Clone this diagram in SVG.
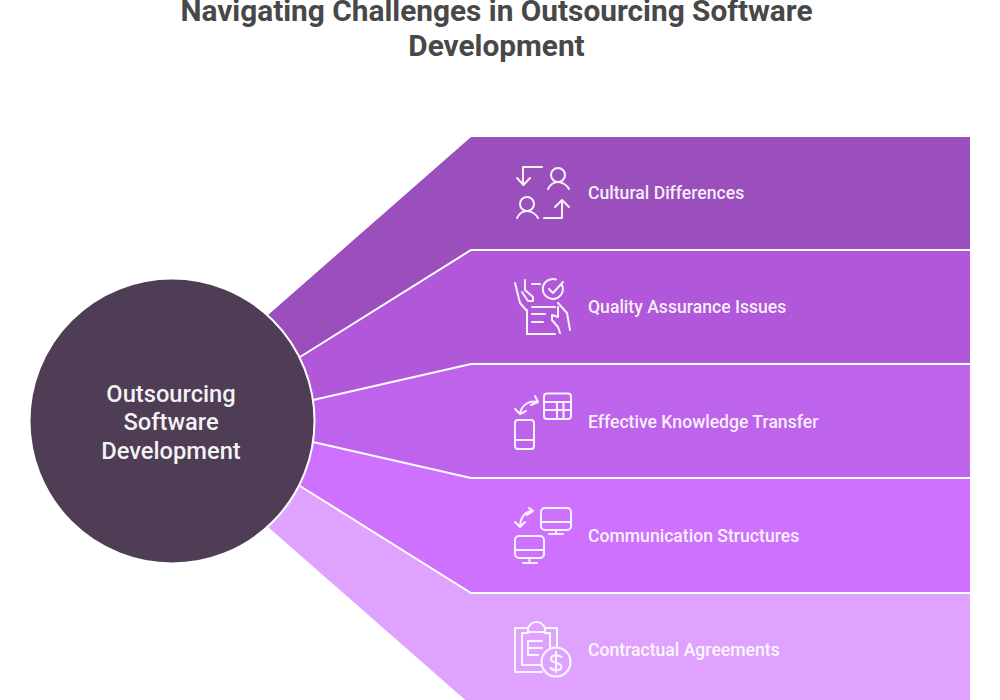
<svg xmlns="http://www.w3.org/2000/svg" width="1000" height="700" viewBox="0 0 1000 700">
<style>
.t{font-family:Roboto,"Liberation Sans",sans-serif}
.title{font-size:29.800px;font-weight:700;fill:#484848;text-anchor:middle}
.lab{font-size:17.600px;font-weight:500;fill:#fff;fill-opacity:.92}
.hub{font-size:23.700px;font-weight:500;fill:#fff;fill-opacity:.95;text-anchor:middle}
.i{fill:none;stroke:#fff;stroke-opacity:.92;stroke-width:2;stroke-linecap:round;stroke-linejoin:round}
.sep{fill:none;stroke:#fff;stroke-width:2}
</style>
<rect width="1000" height="700" fill="#fff"/>
<g id="title"><text class="t title" x="496.500" y="21">Navigating Challenges in Outsourcing Software</text><text class="t title" x="496.500" y="56">Development</text></g>
<g id="band-cultural"><polygon points="172,421 268,315 471,137 970,137 970,250 471,250 300,357" fill="#9b4fbd"/>
<g class="i"><path d="M542 167H523V185M517 178L523.500 185L530 178"/><circle cx="558" cy="175" r="7"/><path d="M548 189C550 185 554 182 558 182C562 182 567 185 569 189"/><circle cx="527" cy="204" r="7"/><path d="M517 218C519 214 523 211 527 211C531 211 536 214 538 218"/><path d="M544 218H562V200M555 207L562 200L569 207"/></g>
<text class="t lab" x="588" y="199">Cultural Differences</text></g>
<g id="band-quality"><polygon points="172,421 300,357 471,250 970,250 970,364 471,364 313,400" fill="#b057da"/>
<g class="i"><path d="M515 283L520 303L526 310M525 280V290L533 297V301H528L522 292"/><path d="M532 284H540"/><path d="M563 282L553 293L549 289M562 285A10 10 0 1 1 556 279.500"/><path d="M527 310V334H555M532 307H555M532 314H545M532 322H543"/><path d="M558 303L567 313L570 330M558 307V317L552 315V320L558 327L560 333"/></g>
<text class="t lab" x="588" y="313">Quality Assurance Issues</text></g>
<g id="band-knowledge"><polygon points="172,421 313,400 471,364 970,364 970,478 471,478 313,442" fill="#be63ec"/>
<g class="i"><rect x="544" y="393.500" width="27" height="25.500" rx="3"/><path d="M544 402H571M544 410H571M557 402V419M563.500 402V419"/><rect x="515" y="420" width="19" height="29" rx="3"/><path d="M515 440H534"/><path d="M535 396L538 402L531 405M538 402C529 400 522 405 520 413M515 409L520 414L526 411"/></g>
<text class="t lab" x="588" y="428">Effective Knowledge Transfer</text></g>
<g id="band-communication"><polygon points="172,421 313,442 471,478 970,478 970,593 471,593 300,486" fill="#cf71ff"/>
<g class="i"><rect x="541" y="508" width="30" height="22" rx="4"/><path d="M541 522H571M556 530V534M549 534H563"/><rect x="515" y="536" width="29" height="22" rx="4"/><path d="M515 550H544M529.500 558V563M523 563H537"/><path d="M529 508L533 511L527 515M533 511C525 511 520 518 520 527M515 522L520 527L525 522"/></g>
<text class="t lab" x="588" y="542">Communication Structures</text></g>
<g id="band-contractual"><polygon points="172,421 300,486 471,593 970,593 970,705 471,705 268,527" fill="#dfa3ff"/>
<g class="i"><path d="M528 628H515V672H542M545 628H557V648"/><path d="M528 628V632H545V628C543 624 540 622 536.500 622C533 622 530 624 528 628Z" /><path d="M528 633H522V665H541M545 633H550V648"/><path d="M528 641V655M528 641H542M528 648H542M528 655H538"/><circle cx="556" cy="662" r="14.500"/><path d="M561.500 657C559 654.500 551 654 551 659C551 664 561.500 661.500 561.500 667C561.500 671 553 671 550.500 668M556 652V672"/></g>
<text class="t lab" x="588" y="656">Contractual Agreements</text></g>
<g id="separators" class="sep"><path d="M300 357L471 250H970"/><path d="M313 400L471 364H970"/><path d="M313 442L471 478H970"/><path d="M300 486L471 593H970"/></g>
<g id="hub"><circle cx="172" cy="421" r="142.500" fill="#4f3d56" stroke="#fff" stroke-width="2"/>
<text class="t hub" x="171" y="402">Outsourcing</text><text class="t hub" x="171" y="430">Software</text><text class="t hub" x="171" y="459">Development</text></g>
</svg>
